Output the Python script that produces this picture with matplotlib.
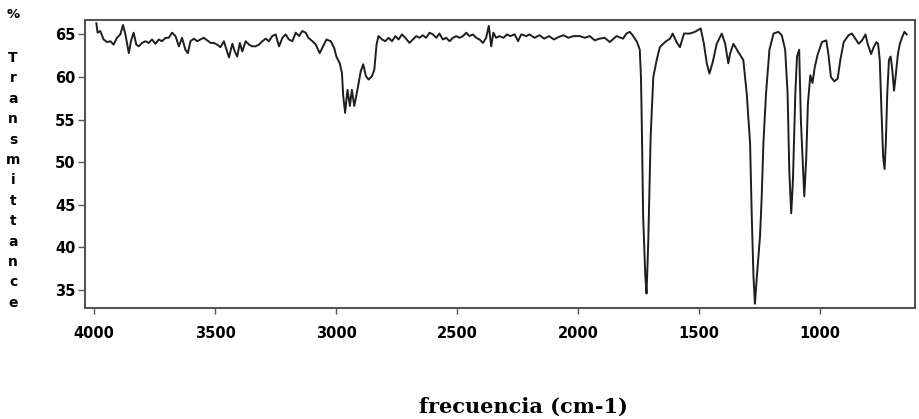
import matplotlib
matplotlib.use("Agg")
from matplotlib import pyplot as plt

# IR spectrum (wavenumber cm-1, % transmittance)
wavenumber = [
    3991, 3986, 3975, 3961, 3947, 3933, 3920, 3906, 3892, 3881, 3871, 3857, 3848, 3837,
    3826, 3816, 3802, 3788, 3775, 3761, 3747, 3733, 3720, 3705, 3692, 3678, 3664, 3650,
    3637, 3623, 3613, 3602, 3588, 3574, 3561, 3547, 3533, 3519, 3506, 3492, 3478, 3464,
    3453, 3443, 3429, 3419, 3409, 3398, 3388, 3374, 3360, 3347, 3333, 3319, 3305, 3291,
    3278, 3264, 3250, 3236, 3222, 3209, 3195, 3181, 3167, 3153, 3140, 3126, 3115, 3098,
    3084, 3068, 3054, 3040, 3022, 3008, 2999, 2985, 2976, 2971, 2963, 2953, 2943, 2935,
    2925, 2912, 2898, 2888, 2877, 2866, 2852, 2842, 2833, 2825, 2810, 2797, 2783, 2769,
    2755, 2742, 2728, 2714, 2697, 2683, 2669, 2655, 2642, 2628, 2614, 2600, 2586, 2573,
    2559, 2545, 2531, 2517, 2504, 2490, 2476, 2462, 2449, 2435, 2421, 2407, 2393, 2380,
    2369, 2359, 2350, 2339, 2325, 2308, 2294, 2280, 2262, 2248, 2235, 2214, 2201, 2180,
    2160, 2140, 2120, 2100, 2080, 2060, 2040, 2020, 1993, 1972, 1952, 1931, 1911, 1890,
    1869, 1841, 1814, 1800, 1786, 1772, 1756, 1745, 1740, 1736, 1731, 1722, 1717, 1710,
    1706, 1700, 1689, 1675, 1662, 1641, 1620, 1609, 1593, 1579, 1562, 1538, 1517, 1493,
    1480, 1468, 1457, 1443, 1427, 1406, 1392, 1379, 1372, 1358, 1337, 1317, 1303, 1289,
    1282, 1275, 1269, 1261, 1248, 1241, 1234, 1223, 1209, 1192, 1172, 1158, 1144, 1134,
    1127, 1119, 1112, 1102, 1095, 1086, 1079, 1070, 1065, 1057, 1050, 1040, 1031, 1022,
    1010, 992, 974, 965, 955, 941, 927, 916, 902, 882, 868, 854, 840, 826, 812, 803, 789,
    778, 767, 760, 753, 746, 739, 733, 728, 722, 715, 708, 701, 694, 688, 678, 670, 660,
    651, 642,
]
transmittance = [
    66.3, 65.2, 65.4, 64.4, 64.1, 64.2, 63.8, 64.6, 65.0, 66.1, 65.0, 62.8, 64.2, 65.2,
    63.8, 63.6, 64.0, 64.2, 64.0, 64.4, 63.9, 64.4, 64.2, 64.6, 64.6, 65.2, 64.8, 63.6,
    64.6, 63.2, 62.8, 64.2, 64.5, 64.2, 64.4, 64.6, 64.3, 64.0, 64.0, 63.8, 63.5, 64.2,
    63.2, 62.3, 63.9, 63.0, 62.4, 64.0, 63.0, 64.2, 63.8, 63.6, 63.6, 63.8, 64.2, 64.5,
    64.2, 64.8, 65.0, 63.6, 64.6, 65.0, 64.4, 64.2, 65.2, 64.8, 65.4, 65.2, 64.6, 64.2,
    63.8, 62.8, 63.6, 64.4, 64.2, 63.4, 62.4, 61.6, 60.5, 57.9, 55.8, 58.5, 56.6, 58.5,
    56.6, 58.5, 60.7, 61.5, 60.1, 59.7, 60.1, 60.9, 63.8, 64.8, 64.4, 64.2, 64.6, 64.2,
    64.8, 64.4, 65.0, 64.6, 64.0, 64.4, 64.8, 64.6, 64.9, 64.6, 65.2, 65.0, 64.6, 65.1,
    64.4, 64.6, 64.2, 64.6, 64.8, 64.6, 64.8, 65.2, 64.8, 65.0, 64.6, 64.4, 64.0, 64.6,
    66.0, 63.6, 65.2, 64.6, 64.8, 64.6, 65.0, 64.8, 65.0, 64.2, 65.0, 64.8, 65.0, 64.6,
    64.9, 64.5, 64.8, 64.4, 64.7, 64.9, 64.6, 64.8, 64.8, 64.6, 64.8, 64.3, 64.5, 64.6,
    64.1, 64.8, 64.5, 65.1, 65.3, 64.8, 64.1, 63.2, 60.0, 53.4, 43.6, 36.6, 34.6, 40.5,
    45.6, 53.0, 60.0, 62.0, 63.5, 64.1, 64.5, 65.1, 64.1, 63.5, 65.1, 65.1, 65.3, 65.7,
    63.9, 61.6, 60.4, 61.8, 63.9, 65.1, 63.9, 61.6, 62.7, 63.9, 62.9, 62.0, 58.1, 52.2,
    43.6, 36.6, 33.4, 36.6, 41.3, 45.9, 52.2, 58.1, 63.2, 65.1, 65.3, 64.9, 63.2, 58.1,
    49.1, 44.0, 47.8, 58.1, 62.4, 63.2, 54.9, 49.1, 46.0, 50.4, 56.9, 60.2, 59.3, 61.1,
    62.6, 64.1, 64.3, 62.6, 60.0, 59.5, 59.8, 62.0, 64.1, 64.9, 65.1, 64.5, 63.9, 64.3,
    65.0, 63.9, 62.7, 63.5, 64.1, 63.9, 62.0, 56.1, 50.6, 49.2, 52.2, 58.1, 62.0, 62.4,
    60.8, 58.4, 59.9, 62.7, 63.9, 64.7, 65.3, 65.0,
]
x_ticks = [4000, 3500, 3000, 2500, 2000, 1500, 1000]
y_ticks = [35, 40, 45, 50, 55, 60, 65]
y_label = "% Transmittance"
x_label = "frecuencia (cm-1)"

fig = plt.figure(figsize=(9.19, 4.19), dpi=100)
ax = fig.add_axes([0.0925, 0.265, 0.9035, 0.6875])

ax.plot(wavenumber, transmittance, color="#1e1e1e", linewidth=1.4)
ax.set_xlim(4038, 606)
ax.set_ylim(32.9, 66.7)
ax.set_xticks(x_ticks)
ax.set_yticks(y_ticks)
ax.tick_params(axis="x", direction="out", length=4, width=1, color="#555555", pad=9)
ax.tick_params(axis="y", direction="out", length=5, width=1, color="#555555", pad=2)
for lbl in ax.get_xticklabels() + ax.get_yticklabels():
    lbl.set_fontfamily("DejaVu Sans")
    lbl.set_fontweight("bold")
    lbl.set_fontsize(10.5)
for s in ax.spines.values():
    s.set_color("#555555")
    s.set_linewidth(1.5)

# vertical stacked y label, one letter per row
fig.text(13 / 919, 1 - 14 / 419, "%", ha="center", va="center",
         fontfamily="DejaVu Sans", fontweight="bold", fontsize=9.5)
for i, ch in enumerate(y_label.split(" ")[1]):
    yy = 58 + i * 20.4
    fig.text(13 / 919, 1 - yy / 419, ch, ha="center", va="center",
             fontfamily="DejaVu Sans", fontweight="bold", fontsize=10)

fig.text(523 / 919, 12 / 419, x_label, ha="center", va="center",
         fontfamily="DejaVu Serif", fontweight="bold", fontsize=15)

fig.savefig("out.png", dpi=100)
